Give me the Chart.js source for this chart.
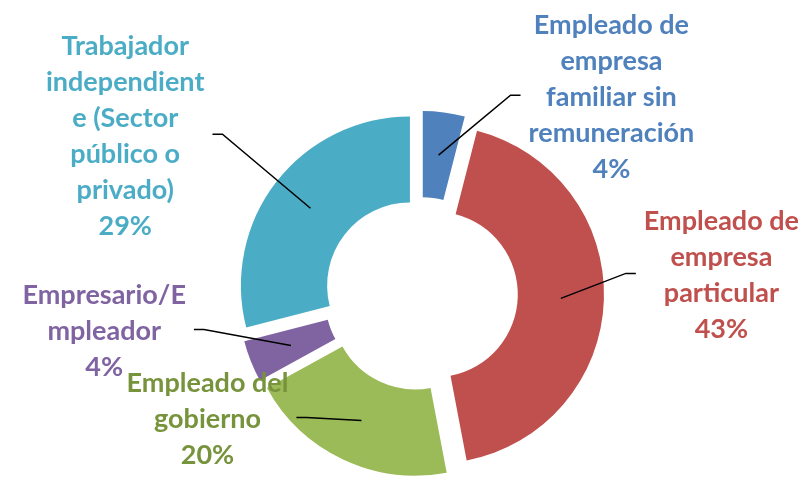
<!DOCTYPE html>
<html>
<head>
<meta charset="utf-8">
<script src="https://cdn.jsdelivr.net/npm/chart.js@4"></script>
<style>
  html, body { margin: 0; padding: 0; background: #fff; }
  #chart { display: block; }
</style>
</head>
<body>
<canvas id="chart" width="811" height="479"></canvas>
<script>
// Data
const categories = [
  "Empleado de empresa familiar sin remuneración",
  "Empleado de empresa particular",
  "Empleado del gobierno",
  "Empresario/Empleador",
  "Trabajador independiente (Sector público o privado)"
];
const shares = [4, 43, 20, 4, 29];
// label text as it wraps in the original
const labelLines = [
  ["Empleado de", "empresa", "familiar sin", "remuneración"],
  ["Empleado de", "empresa", "particular"],
  ["Empleado del", "gobierno"],
  ["Empresario/E", "mpleador"],
  ["Trabajador", "independient", "e (Sector", "público o", "privado)"]
];
const sliceColors = ["#4F81BD", "#C0504D", "#9BBB59", "#8064A2", "#4BACC6"];
const textColors = ["#4F81BD", "#C0504D", "#77933C", "#8064A2", "#4BACC6"];
// where each leader line ends, relative to the middle of its slice
const leaderEnds = [[82, -60], [75, -25], [-65, -3], [-97, -16], [-98, -74]];

const EXPLODE = 14;

// pull every slice outwards along its own middle angle
const explodedSlices = {
  id: "explodedSlices",
  beforeDatasetDraw(chart, args) {
    const ctx = chart.ctx;
    args.meta.data.forEach(arc => {
      const mid = (arc.startAngle + arc.endAngle) / 2;
      ctx.save();
      ctx.translate(Math.cos(mid) * EXPLODE, Math.sin(mid) * EXPLODE);
      arc.draw(ctx);
      ctx.restore();
    });
    return false;
  }
};

// outside labels with leader lines
const sliceLabels = {
  id: "sliceLabels",
  afterDraw(chart) {
    const ctx = chart.ctx;
    const meta = chart.getDatasetMeta(0);
    const values = chart.data.datasets[0].data;
    const total = values.reduce((a, b) => a + b, 0);
    ctx.save();
    ctx.font = "bold 27px Lato";
    ctx.textAlign = "center";
    ctx.textBaseline = "middle";
    meta.data.forEach((arc, i) => {
      const mid = (arc.startAngle + arc.endAngle) / 2;
      const c = arc.getCenterPoint();
      const sx = c.x + Math.cos(mid) * EXPLODE;
      const sy = c.y + Math.sin(mid) * EXPLODE;
      const ex = sx + leaderEnds[i][0];
      const ey = sy + leaderEnds[i][1];
      const side = leaderEnds[i][0] >= 0 ? 1 : -1;

      ctx.strokeStyle = "#000";
      ctx.lineWidth = 1.5;
      ctx.beginPath();
      ctx.moveTo(sx, sy);
      ctx.lineTo(ex - side * 10, ey);
      ctx.lineTo(ex, ey);
      ctx.stroke();

      const lines = labelLines[i].concat([Math.round(values[i] / total * 100) + "%"]);
      const w = Math.max(...lines.map(t => ctx.measureText(t).width));
      const lx = ex + side * (8 + w / 2);
      ctx.fillStyle = textColors[i];
      lines.forEach((t, k) => {
        ctx.fillText(t, lx, ey + (k - (lines.length - 1) / 2) * 36 + 2);
      });
    });
    ctx.restore();
  }
};

new Chart(document.getElementById("chart"), {
  type: "doughnut",
  data: {
    labels: categories,
    datasets: [{
      data: shares,
      backgroundColor: sliceColors,
      borderWidth: 0
    }]
  },
  options: {
    responsive: false,
    animation: false,
    cutout: "49%",
    layout: { padding: { left: 252, right: 221, top: 125, bottom: 16 } },
    plugins: {
      legend: { display: false },
      tooltip: { enabled: false }
    }
  },
  plugins: [explodedSlices, sliceLabels]
});
</script>
</body>
</html>
